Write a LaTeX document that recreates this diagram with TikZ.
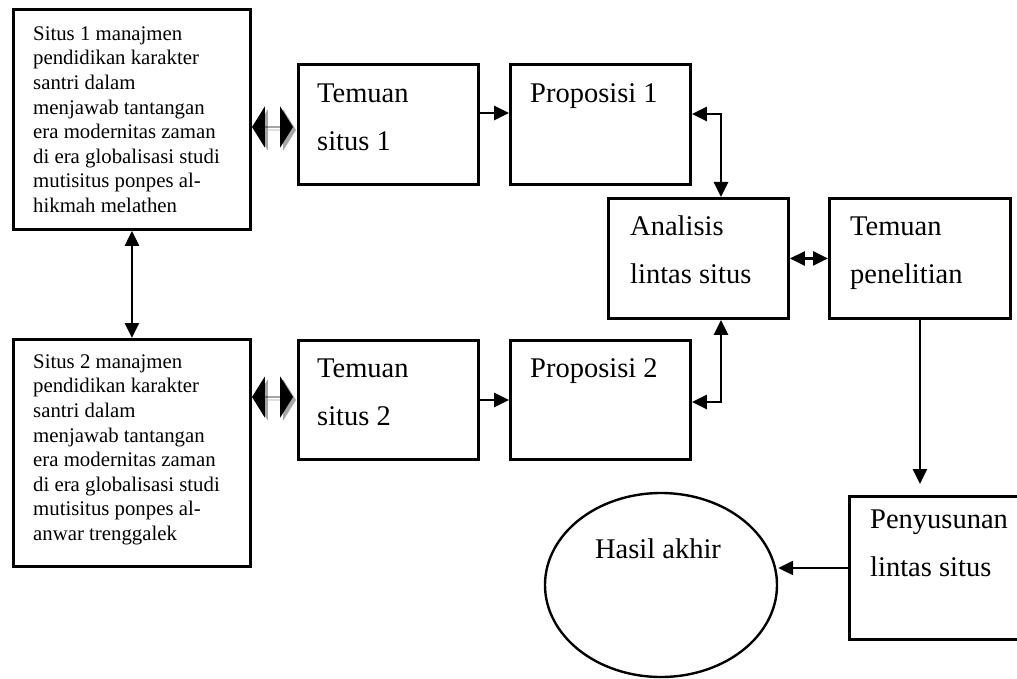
\documentclass[tikz,border=0pt]{standalone}
\usepackage{fontspec}
\setmainfont{Liberation Serif}
\usetikzlibrary{arrows.meta,shapes.arrows,shapes.geometric,shadows,calc}
\begin{document}
\begin{tikzpicture}[x=1pt,y=-1pt,
  box/.style={draw=black, line width=2.9pt, rectangle, inner sep=0pt, anchor=north west},
  smalltxt/.style={font=\fontsize{20.8}{24.6}\selectfont, align=left, inner sep=0pt, anchor=north west},
  bigtxt/.style={font=\fontsize{28.5}{48}\selectfont, align=left, inner sep=0pt, anchor=north west},
  conn/.style={line width=2.7pt},
  >={Triangle[length=15pt,width=14pt]},
  fancy/.style={double arrow, fill=black, draw=none, minimum height=41pt, minimum width=41pt,
    double arrow head extend=13pt, double arrow tip angle=116, inner sep=0pt,
    drop shadow={shadow xshift=3pt, shadow yshift=-3pt, fill=black!35, opacity=1}}
]
\clip (0,0) rectangle (1017,679);
\fill[white] (0,0) rectangle (1017,679);

% boxes
\node[box, minimum width=237pt, minimum height=220pt] (s1) at (12,8) {};
\node[box, minimum width=237pt, minimum height=227pt] (s2) at (12,338) {};
\node[box, minimum width=180pt, minimum height=120pt] (t1) at (297,63) {};
\node[box, minimum width=180pt, minimum height=120pt] (p1) at (509,63) {};
\node[box, minimum width=180pt, minimum height=119pt] (t2) at (297,339) {};
\node[box, minimum width=180pt, minimum height=119pt] (p2) at (509,339) {};
\node[box, minimum width=180pt, minimum height=120pt] (an) at (607,197) {};
\node[box, minimum width=181pt, minimum height=120pt] (tp) at (828,197) {};
\node[box, minimum width=200pt, minimum height=143pt] (pl) at (848,495) {};
\node[draw=black, line width=2.4pt, ellipse, minimum width=232pt, minimum height=184pt, inner sep=0pt] (ha) at (661,585) {};

% texts
\node[smalltxt] (s1t) at (33,22.8) {\strut Situs 1 manajmen\\pendidikan karakter\\santri dalam\\menjawab tantangan\\era modernitas zaman\\di era globalisasi studi\\mutisitus ponpes al-\\hikmah melathen};
\node[smalltxt] (s2t) at (33,350.8) {\strut Situs 2 manajmen\\pendidikan karakter\\santri dalam\\menjawab tantangan\\era modernitas zaman\\di era globalisasi studi\\mutisitus ponpes al-\\anwar trenggalek};
\node[bigtxt] (t1t) at (317,68.4) {\strut Temuan\\situs 1};
\node[bigtxt] (p1t) at (530,68.4) {\strut Proposisi 1};
\node[bigtxt] (t2t) at (317,343.4) {\strut Temuan\\situs 2};
\node[bigtxt] (p2t) at (530,343.4) {\strut Proposisi 2};
\node[bigtxt] (ant) at (630,201.4) {\strut Analisis\\lintas situs};
\node[bigtxt] (tpt) at (850,201.4) {\strut Temuan\\penelitian};
\node[bigtxt] (plt) at (870,494.4) {\strut Penyusunan\\lintas situs};
\node[font=\fontsize{28.5}{34}\selectfont, inner sep=0pt, anchor=base] (hat) at (658,558) {Hasil akhir};

% fancy double arrows
\node[fancy] (fa1) at (272.5,127) {};
\node[fancy] (fa2) at (272.5,397) {};

% connectors
\draw[conn,<->] (s1.south) -- (s2.north);
\coordinate (r1) at (0,113);
\coordinate (r2) at (0,400);
\draw[conn,->] (r1 -| t1.east) -- (r1 -| p1.west);
\draw[conn,->] (r2 -| t2.east) -- (r2 -| p2.west);
\coordinate (c1) at (721,114);
\coordinate (c2) at (721,402);
\draw[conn,<->] (c1 -| p1.east) -- (c1) -- (c1 |- an.north);
\draw[conn,<->] (c2 -| p2.east) -- (c2) -- (c2 |- an.south);
\draw[conn,<->] (an.east) -- (tp.west);
\draw[conn,->, shorten >=11pt] (tp.south) -- (tp.south |- pl.north);
\draw[conn,->] (pl.west) -- (pl.west -| ha.east);
\end{tikzpicture}
\end{document}
